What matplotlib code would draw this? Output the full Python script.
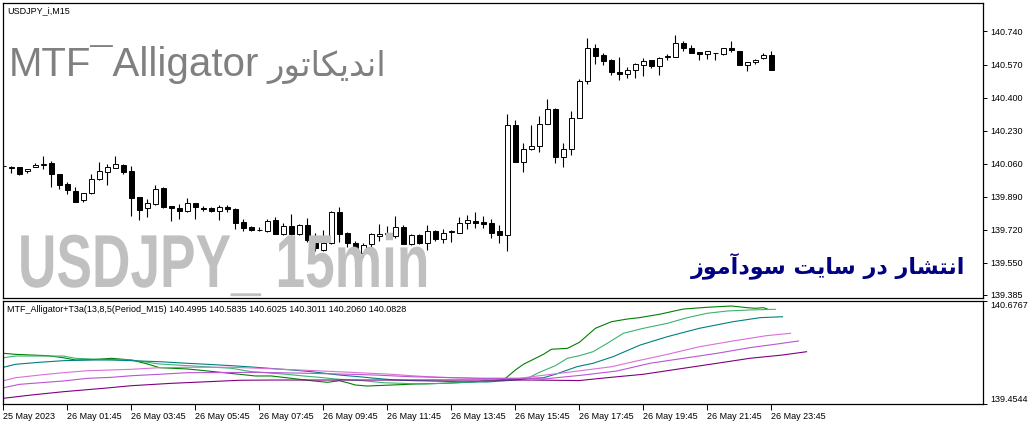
import numpy as np
import matplotlib
matplotlib.use("Agg")
import matplotlib.pyplot as plt
from matplotlib import patheffects
from matplotlib.transforms import Affine2D

# --- candles, one per 15 min bar (25 May 23:45 .. 26 May 23:45) ---
opens = [140.049, 140.044, 140.041, 140.020, 140.041, 140.054, 140.061, 140.006, 139.955, 139.920,
         139.872, 139.907, 139.980, 140.015, 140.037, 140.054, 140.023, 139.886, 139.834, 139.852,
         139.932, 139.843, 139.831, 139.814, 139.857, 139.831, 139.834, 139.817, 139.838, 139.828,
         139.761, 139.735, 139.718, 139.714, 139.769, 139.700, 139.740, 139.700, 139.745, 139.662,
         139.614, 139.650, 139.812, 139.702, 139.654, 139.600, 139.645, 139.688, 139.705, 139.688,
         139.734, 139.645, 139.692, 139.649, 139.714, 139.671, 139.709, 139.705, 139.757, 139.765,
         139.760, 139.753, 139.711, 139.692, 140.259, 140.067, 140.134, 140.149, 140.264, 140.342,
         140.093, 140.136, 140.295, 140.484, 140.656, 140.620, 140.591, 140.532, 140.522, 140.543,
         140.568, 140.594, 140.563, 140.610, 140.611, 140.680, 140.656, 140.636, 140.625, 140.629,
         140.625, 140.656, 140.641, 140.568, 140.584, 140.605, 140.620]
highs = [140.058, 140.046, 140.044, 140.032, 140.065, 140.101, 140.075, 140.008, 139.963, 139.941,
         139.907, 140.006, 140.066, 140.058, 140.101, 140.058, 140.049, 139.886, 139.877, 139.951,
         139.938, 139.843, 139.852, 139.883, 139.857, 139.843, 139.838, 139.848, 139.848, 139.831,
         139.774, 139.740, 139.735, 139.774, 139.783, 139.757, 139.801, 139.748, 139.779, 139.705,
         139.717, 139.816, 139.838, 139.710, 139.660, 139.650, 139.705, 139.748, 139.740, 139.791,
         139.745, 139.697, 139.700, 139.743, 139.719, 139.722, 139.717, 139.786, 139.796, 139.813,
         139.791, 139.777, 139.746, 140.313, 140.285, 140.165, 140.261, 140.307, 140.390, 140.347,
         140.168, 140.330, 140.496, 140.708, 140.673, 140.630, 140.596, 140.611, 140.556, 140.577,
         140.606, 140.594, 140.611, 140.623, 140.723, 140.690, 140.668, 140.636, 140.639, 140.630,
         140.654, 140.690, 140.641, 140.584, 140.599, 140.629, 140.639]
lows = [140.041, 140.010, 140.003, 140.010, 140.041, 140.032, 139.938, 139.929, 139.903, 139.860,
        139.865, 139.903, 139.975, 139.951, 140.037, 140.006, 139.791, 139.769, 139.783, 139.848,
        139.831, 139.766, 139.774, 139.809, 139.774, 139.817, 139.809, 139.769, 139.809, 139.723,
        139.711, 139.711, 139.714, 139.706, 139.697, 139.694, 139.694, 139.694, 139.655, 139.610,
        139.611, 139.645, 139.659, 139.630, 139.520, 139.580, 139.620, 139.660, 139.690, 139.679,
        139.645, 139.640, 139.645, 139.614, 139.662, 139.649, 139.659, 139.705, 139.722, 139.728,
        139.728, 139.679, 139.654, 139.612, 140.067, 140.015, 140.130, 140.118, 140.264, 140.062,
        140.041, 140.106, 140.295, 140.471, 140.574, 140.568, 140.517, 140.491, 140.501, 140.501,
        140.513, 140.553, 140.517, 140.591, 140.611, 140.639, 140.630, 140.591, 140.599, 140.591,
        140.617, 140.632, 140.565, 140.536, 140.574, 140.599, 140.543]
closes = [140.046, 140.037, 140.006, 140.032, 140.054, 140.056, 140.006, 139.950, 139.924, 139.865,
          139.907, 139.980, 140.020, 140.041, 140.058, 140.015, 139.883, 139.821, 139.855, 139.929,
          139.838, 139.834, 139.814, 139.857, 139.838, 139.829, 139.814, 139.838, 139.826, 139.757,
          139.728, 139.718, 139.716, 139.766, 139.700, 139.740, 139.698, 139.745, 139.665, 139.625,
          139.650, 139.812, 139.700, 139.654, 139.600, 139.640, 139.700, 139.700, 139.700, 139.734,
          139.645, 139.692, 139.654, 139.714, 139.671, 139.705, 139.711, 139.757, 139.769, 139.753,
          139.748, 139.705, 139.694, 140.259, 140.067, 140.136, 140.151, 140.264, 140.342, 140.093,
          140.136, 140.295, 140.486, 140.656, 140.615, 140.587, 140.531, 140.522, 140.543, 140.574,
          140.589, 140.562, 140.605, 140.612, 140.680, 140.656, 140.630, 140.625, 140.639, 140.628,
          140.654, 140.646, 140.568, 140.584, 140.594, 140.617, 140.543]

time_ticks = [0, 8, 16, 24, 32, 40, 48, 56, 64, 72, 80, 88, 96]
time_labels = ["25 May 2023", "26 May 01:45", "26 May 03:45", "26 May 05:45", "26 May 07:45",
               "26 May 09:45", "26 May 11:45", "26 May 13:45", "26 May 15:45", "26 May 17:45",
               "26 May 19:45", "26 May 21:45", "26 May 23:45"]
price_ticks = [140.740, 140.570, 140.400, 140.230, 140.060, 139.890, 139.720, 139.550, 139.385]

# --- alligator lines in the sub window (bar number, value) ---
green_x = [0, 1.5, 5.5, 7.5, 9, 11, 13.5, 16, 18, 19.5, 23, 25.5, 29.5, 31.5, 33.5, 36, 38.5, 40.5,
           42, 43, 44, 45.5, 48.5, 51.5, 55, 59, 61, 62.5, 63, 64, 65, 67.5, 68.5, 70.5, 72, 74, 76,
           78, 79.5, 82, 85, 88, 91, 93, 94, 95, 95.5]
green_y = [140.054, 140.042, 140.026, 140.002, 139.975, 139.979, 139.995, 139.975, 139.928, 139.884,
           139.869, 139.845, 139.806, 139.786, 139.786, 139.758, 139.730, 139.711, 139.730, 139.706,
           139.679, 139.667, 139.679, 139.691, 139.699, 139.718, 139.730, 139.738, 139.777, 139.857,
           139.924, 140.042, 140.102, 140.113, 140.184, 140.350, 140.428, 140.460, 140.476, 140.516,
           140.578, 140.599, 140.614, 140.594, 140.587, 140.594, 140.578]
seagreen_x = [0, 1.5, 7.5, 9, 12, 16, 19.5, 23, 28.5, 31, 35, 37.5, 39.5, 41.5, 45, 47.5, 52.5, 57,
              61, 64.5, 65.5, 67, 69, 70.5, 72, 73.7, 75.5, 77.5, 80, 83, 85.5, 88, 90.5, 93.3, 96.5]
seagreen_y = [140.002, 140.022, 140.022, 139.995, 139.983, 139.975, 139.928, 139.908, 139.877,
              139.837, 139.809, 139.786, 139.770, 139.750, 139.730, 139.706, 139.691, 139.706,
              139.730, 139.750, 139.758, 139.829, 139.908, 139.995, 140.026, 140.073, 140.173,
              140.291, 140.350, 140.409, 140.476, 140.528, 140.555, 140.567, 140.575]
teal_x = [0, 1.5, 4.5, 7.5, 10.5, 13.5, 16, 19.5, 23, 25.5, 28.5, 31.5, 36, 38.5, 42, 44.5, 46.5, 49,
          51.5, 57, 60.5, 64, 65.8, 67.5, 69, 71.7, 73.7, 76.2, 79.6, 83, 87, 91.2, 94.6, 97.4]
teal_y = [139.889, 139.924, 139.948, 139.967, 139.975, 139.975, 139.967, 139.955, 139.936, 139.924,
          139.908, 139.889, 139.857, 139.837, 139.797, 139.777, 139.758, 139.738, 139.730, 139.718,
          139.715, 139.738, 139.758, 139.765, 139.806, 139.896, 139.936, 140.014, 140.152, 140.251,
          140.350, 140.428, 140.476, 140.487]
orchid_x = [0, 1.5, 4.5, 7.5, 10.5, 16, 19.5, 23, 28.5, 32, 37, 43.5, 48.5, 51, 54.5, 59.5, 64.5, 66,
            70.5, 74.5, 76, 79, 83, 87, 91.2, 95.4, 98.4]
orchid_y = [139.730, 139.765, 139.797, 139.825, 139.848, 139.865, 139.884, 139.889, 139.889, 139.877,
            139.857, 139.829, 139.806, 139.789, 139.770, 139.758, 139.758, 139.777, 139.829, 139.877,
            139.895, 139.960, 140.042, 140.132, 140.200, 140.263, 140.291]
violet_x = [0, 2, 7.5, 10.5, 13.5, 16, 19.5, 23, 32, 38, 43.5, 46.5, 51, 54.5, 59.5, 65.8, 67.5, 72.5,
            76.7, 80.8, 85, 89.2, 93.3, 96.7, 99.4]
violet_y = [139.647, 139.687, 139.727, 139.758, 139.770, 139.789, 139.806, 139.825, 139.829, 139.818,
            139.806, 139.797, 139.777, 139.770, 139.758, 139.758, 139.750, 139.797, 139.845, 139.936,
            139.995, 140.054, 140.121, 140.164, 140.200]
purple_x = [0, 3.5, 7.5, 12.5, 16, 21, 25.5, 29.5, 33.5, 65.8, 72, 75.4, 80, 85, 89.2, 93.3, 97.4, 100.4]
purple_y = [139.522, 139.561, 139.600, 139.640, 139.671, 139.699, 139.718, 139.735, 139.738, 139.738,
            139.732, 139.765, 139.806, 139.877, 139.936, 139.995, 140.034, 140.073]
sub_ticks = [139.4544, 140.6767]
legend_text = "MTF_Alligator+T3a(13,8,5(Period_M15) 140.4995 140.5835 140.6025 140.3011 140.2060 140.0828"

title_ar = "اندیکاتور"
site_ar = "انتشار در سایت سودآموز"

# small arabic shaper: presentation forms (isol, fina, init, medi), then visual order
DUAL = {
    "ن": "\uFEE5\uFEE6\uFEE7\uFEE8", "ت": "\uFE95\uFE96\uFE97\uFE98",
    "ش": "\uFEB5\uFEB6\uFEB7\uFEB8", "س": "\uFEB1\uFEB2\uFEB3\uFEB4",
    "م": "\uFEE1\uFEE2\uFEE3\uFEE4", "ک": "\uFB8E\uFB8F\uFB90\uFB91",
    "ی": "\uFBFC\uFBFD\uFBFE\uFBFF",
}
RIGHT = {
    "ا": "\uFE8D\uFE8E", "آ": "\uFE81\uFE82", "د": "\uFEA9\uFEAA",
    "ر": "\uFEAD\uFEAE", "ز": "\uFEAF\uFEB0", "و": "\uFEED\uFEEE",
}


def shape_rtl(s):
    out = []
    for k, ch in enumerate(s):
        prev = s[k - 1] if k > 0 else " "
        nxt = s[k + 1] if k < len(s) - 1 else " "
        jp = prev in DUAL
        if ch in DUAL:
            jn = nxt in DUAL or nxt in RIGHT
            idx = 3 if (jp and jn) else 1 if jp else 2 if jn else 0
            out.append(DUAL[ch][idx])
        elif ch in RIGHT:
            out.append(RIGHT[ch][1 if jp else 0])
        else:
            out.append(ch)
    return "".join(reversed(out))


class Squeeze(patheffects.AbstractPathEffect):
    # narrows the glyphs horizontally around x0 (display pixels)
    def __init__(self, x0, sx):
        super().__init__()
        self.x0, self.sx = x0, sx

    def draw_path(self, renderer, gc, tpath, affine, rgbFace=None):
        squeeze = Affine2D().translate(-self.x0, 0).scale(self.sx, 1).translate(self.x0, 0)
        renderer.draw_path(gc, tpath, affine + squeeze, rgbFace)


small = dict(family=["Liberation Sans", "DejaVu Sans"], fontsize=6.5)

W, H = 1029, 425
fig = plt.figure(figsize=(W / 100, H / 100), dpi=100)
fig.patch.set_facecolor("white")

# pixel boxes of the two panels
L, R = 2.7, 983.3
ax = fig.add_axes([L / W, (H - 298.3) / H, (R - L) / W, (298.3 - 2.7) / H])
ax2 = fig.add_axes([L / W, (H - 404) / H, (R - L) / W, (404 - 300.7) / H])

bars = np.arange(len(opens))
o = np.array(opens)
c = np.array(closes)
ax.vlines(bars, lows, highs, color="black", linewidth=0.8, zorder=2)
ax.bar(bars, np.abs(c - o), bottom=np.minimum(o, c), width=0.55,
       color=np.where(c >= o, "white", "black"), edgecolor="black", linewidth=0.7, zorder=3)

ax.set_xlim(-0.1, 122.5)
ax.set_ylim(139.367, 140.888)
ax.set_xticks([])
ax.yaxis.tick_right()
ax.set_yticks(price_ticks)
ax.set_yticklabels([f"{p:.3f}" for p in price_ticks], **small)
ax.tick_params(axis="y", direction="out", length=3, width=0.7, pad=2)

ax2.plot(green_x, green_y, color="#008000", lw=0.8)
ax2.plot(seagreen_x, seagreen_y, color="#3CB371", lw=0.8)
ax2.plot(teal_x, teal_y, color="#008080", lw=0.8)
ax2.plot(orchid_x, orchid_y, color="#DA70D6", lw=0.8)
ax2.plot(violet_x, violet_y, color="#BA55D3", lw=0.8)
ax2.plot(purple_x, purple_y, color="#800080", lw=0.8)
ax2.set_xlim(-0.1, 122.5)
ax2.set_ylim(sub_ticks[0], sub_ticks[1])
ax2.yaxis.tick_right()
ax2.set_yticks(sub_ticks)
ax2.set_yticklabels([f"{v:.4f}" for v in sub_ticks], **small)
lab = ax2.get_yticklabels()
lab[0].set_va("bottom")
lab[1].set_va("top")
ax2.tick_params(axis="y", direction="out", length=3, width=0.7, pad=2)
ax2.set_xticks(time_ticks)
ax2.set_xticklabels(time_labels, ha="left", **small)
ax2.tick_params(axis="x", direction="out", length=4, width=0.7, pad=1.5)

for a in (ax, ax2):
    for s in a.spines.values():
        s.set_linewidth(0.9)
        s.set_color("black")

# texts on the chart, placed in pixels from the top-left corner
fig.text(7 / W, 1 - 11 / H, "USDJPY_i,M15", va="center", ha="left", **small)
ax.text(9, H - 76, "MTF\u00afAlligator", transform=None, color="#808080",
        fontsize=29, family=["Liberation Sans"], va="baseline", ha="left", zorder=5)
ax.text(267, H - 76, shape_rtl(title_ar), transform=None, color="#808080",
        fontsize=24.5, family=["DejaVu Sans"], va="baseline", ha="left", zorder=5)
ax.text(18, H - 287, "USDJPY_ 15min", transform=None, color="#c0c0c0", fontsize=54,
        family=["Liberation Sans", "DejaVu Sans"], fontweight="bold", va="baseline", ha="left",
        zorder=5, path_effects=[Squeeze(18, 0.71)])
ax.text(965, H - 273.3, shape_rtl(site_ar), transform=None, color="#000080", fontsize=16,
        family=["DejaVu Sans"], fontweight="bold", va="baseline", ha="right", zorder=5)
ax2.text(7, H - 309, legend_text, transform=None, va="center", ha="left", **small)

fig.savefig("out.png", dpi=100)
